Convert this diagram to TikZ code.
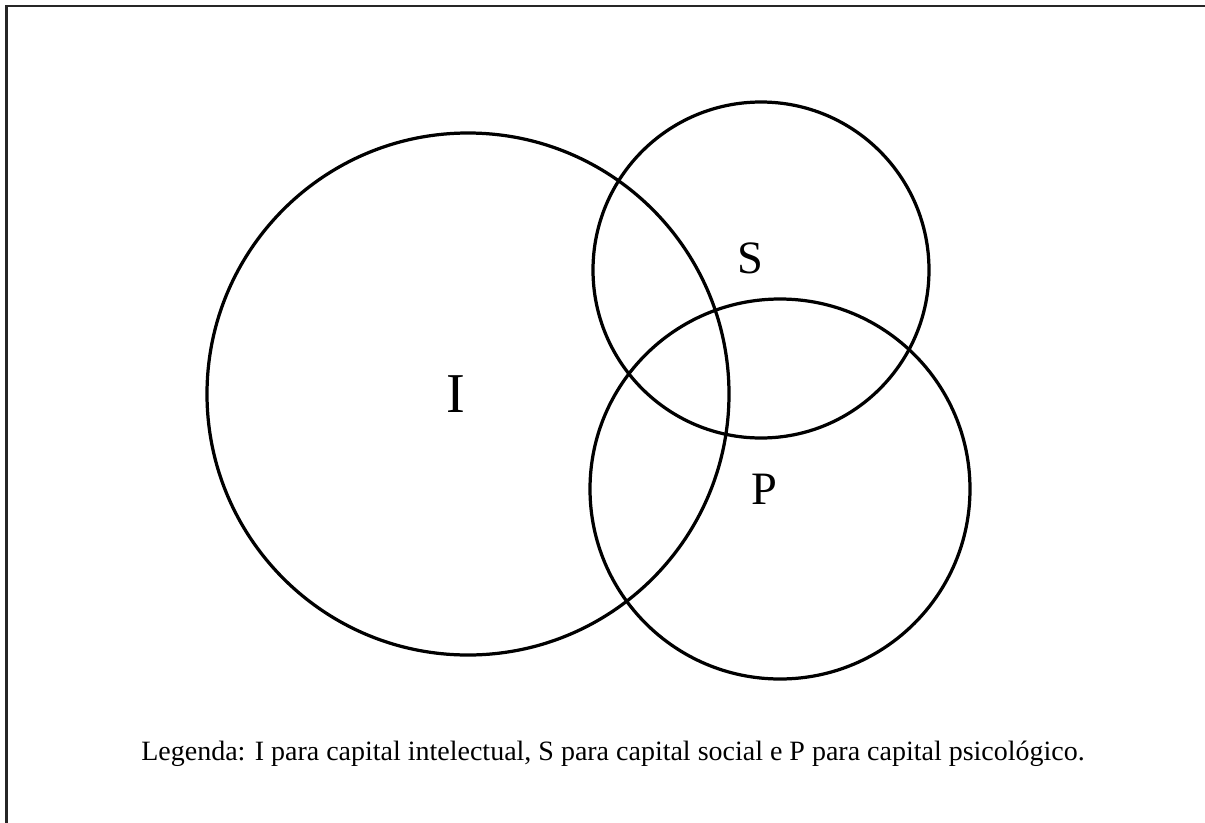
\documentclass[tikz,border=0pt]{standalone}
\usepackage{fontspec}
\setmainfont{Liberation Serif}
\usepackage{tikz}
\usetikzlibrary{positioning}

\begin{document}
\begin{tikzpicture}[
          x=0.025cm, y=-0.025cm,
          ring/.style={draw, line width=2.3pt},
          frameline/.style={draw=black!85, line width=1.8pt},
          biglbl/.style={inner sep=0pt, font=\fontsize{40}{44}\selectfont},
          setlbl/.style={inner sep=0pt, font=\fontsize{33}{36}\selectfont},
          legend/.style={inner sep=0pt, font=\fontsize{19.9}{22}\selectfont}
      ]
        \useasboundingbox (0,0) rectangle (1205,823);
        % page frame (only top and left edges show)
        \coordinate (fbl) at (6.5,823);
        \coordinate (ftl) at (6.5,6);
        \coordinate (ftr) at (1205,6);
        \draw[frameline] (fbl) -- (ftl) -- (ftr);
        % the three sets
        \coordinate (cI) at (468,394);
        \coordinate (cS) at (761,270);
        \coordinate (cP) at (780,489);
        \draw[ring] (cI) circle[radius=261];
        \draw[ring] (cS) circle[radius=168];
        \draw[ring] (cP) circle[radius=190];
        \node[biglbl] (lI) at (456,394) {I};
        \node[setlbl] (lS) at (750,258) {S};
        \node[setlbl] (lP) at (764,489) {P};
        \node[legend, anchor=base] (leg) at (613,760) {Legenda: I para capital intelectual, S para capital social e P para capital psicológico.};
      \end{tikzpicture}
\end{document}
